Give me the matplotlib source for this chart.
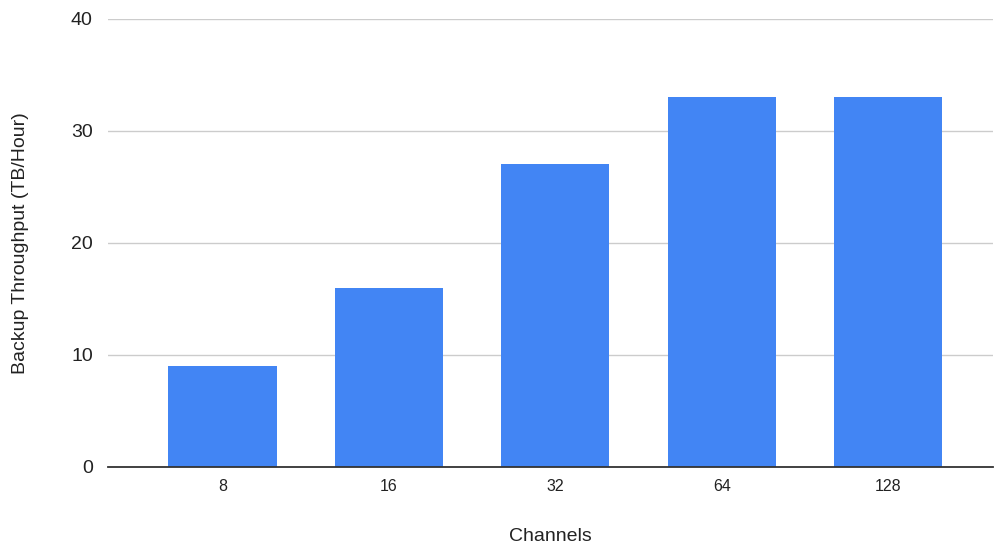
import matplotlib.pyplot as plt
import numpy as np

plt.rcParams['font.family'] = ['Liberation Sans', 'DejaVu Sans']

channels = ['8', '16', '32', '64', '128']
throughput = [9, 16, 27, 33, 33]
y_ticks = [0, 10, 20, 30, 40]

fig = plt.figure(figsize=(9.94, 5.5), dpi=100)
ax = fig.add_axes([0.1087, 0.1515, 0.8905, 0.814])

x = np.arange(len(channels))
ax.bar(x, throughput, width=0.65, color='#4285F4', zorder=3)

ax.set_xlim(-0.687, len(channels) - 1 + 0.63)
ax.set_ylim(0, 40)
ax.set_yticks(y_ticks)
ax.set_xticks(x)
ax.set_xticklabels(channels)

# light horizontal grid, dark baseline
ax.grid(axis='y', color='#cccccc', linewidth=1, zorder=0)
for side in ['top', 'right', 'left']:
    ax.spines[side].set_visible(False)
ax.spines['bottom'].set_color('#333333')
ax.spines['bottom'].set_linewidth(1.3)
ax.spines['bottom'].set_zorder(4)

ax.tick_params(axis='y', length=0, pad=11, labelsize=14, labelcolor='#222222')
ax.tick_params(axis='x', length=0, pad=9, labelsize=11.5, labelcolor='#222222')

ax.set_xlabel('Channels', fontsize=14, color='#222222', labelpad=24)
ax.set_ylabel('Backup Throughput (TB/Hour)', fontsize=14, color='#222222', labelpad=30)

fig.savefig('out.png', dpi=100)
